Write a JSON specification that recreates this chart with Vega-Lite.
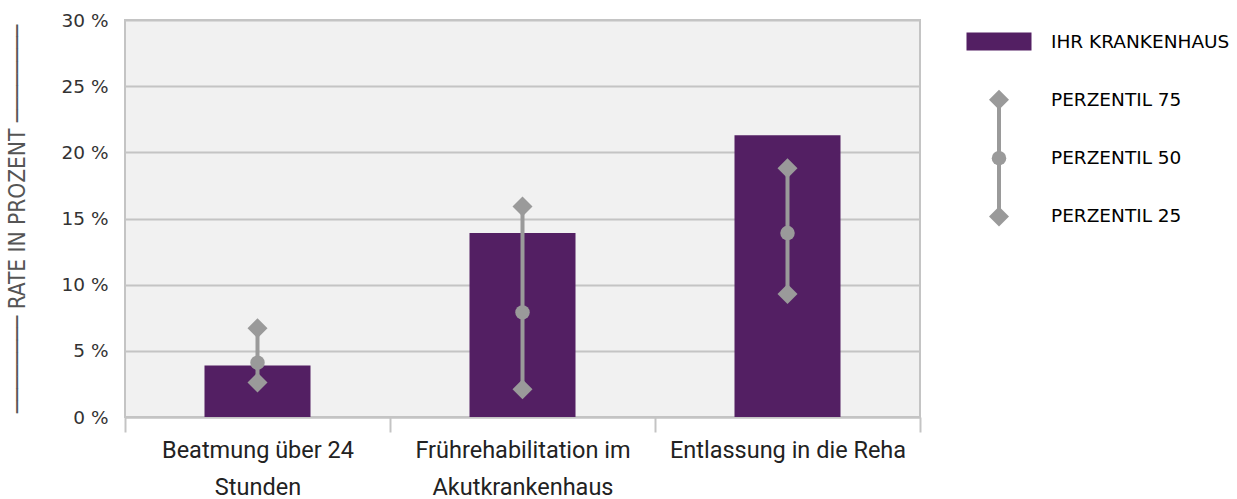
{
  "$schema": "https://vega.github.io/schema/vega-lite/v6.json",
  "background": "white",
  "padding": {"left": 5, "top": 10, "right": 5, "bottom": 2},
  "spacing": 79,
  "bounds": "flush",
  "hconcat": [
    {
      "width": 795,
      "height": 397,
      "view": {"fill": "#f1f1f1", "stroke": "#c4c4c4", "strokeWidth": 2},
      "data": {
        "values": [
          {"kategorie": "Beatmung über 24 Stunden", "rate": 3.9, "p25": 2.6, "p50": 4.1, "p75": 6.7},
          {"kategorie": "Frührehabilitation im Akutkrankenhaus", "rate": 13.9, "p25": 2.1, "p50": 7.9, "p75": 15.9},
          {"kategorie": "Entlassung in die Reha", "rate": 21.3, "p25": 9.3, "p50": 13.9, "p75": 18.8}
        ]
      },
      "encoding": {
        "x": {
          "field": "kategorie",
          "type": "nominal",
          "sort": null,
          "scale": {"paddingInner": 0, "paddingOuter": 0},
          "axis": {
            "title": null,
            "tickBand": "extent",
            "ticks": true,
            "tickSize": 15,
            "tickWidth": 2,
            "tickColor": "#c4c4c4",
            "domainColor": "#c4c4c4",
            "domainWidth": 2,
            "labelAngle": 0,
            "labelFont": "Roboto",
            "labelFontSize": 23.5,
            "labelColor": "#222222",
            "labelPadding": 6,
            "labelLineHeight": 37,
            "labelLimit": 400,
            "labelExpr": "datum.label == 'Beatmung über 24 Stunden' ? ['Beatmung über 24', 'Stunden'] : datum.label == 'Frührehabilitation im Akutkrankenhaus' ? ['Frührehabilitation im', 'Akutkrankenhaus'] : datum.label"
          }
        }
      },
      "layer": [
        {
          "mark": {"type": "bar", "color": "#531f63", "width": {"band": 0.4}},
          "encoding": {
            "y": {
              "field": "rate",
              "type": "quantitative",
              "title": "────────   RATE IN PROZENT  ────────",
              "scale": {"domain": [0, 30]},
              "axis": {
                "values": [0, 5, 10, 15, 20, 25, 30],
                "labelExpr": "datum.value + ' %'",
                "ticks": false,
                "domain": false,
                "grid": true,
                "gridColor": "#c4c4c4",
                "gridWidth": 2,
                "labelFont": "DejaVu Sans",
                "labelFontSize": 18.5,
                "labelColor": "#333333",
                "labelPadding": 17,
                "titleFont": "DejaVu Sans Condensed, DejaVu Sans",
                "titleFontSize": 22.5,
                "titleFontWeight": "normal",
                "titleColor": "#555555",
                "titlePadding": 32
              }
            }
          }
        },
        {
          "mark": {"type": "rule", "color": "#9a9a9a", "strokeWidth": 4},
          "encoding": {
            "y": {"field": "p25", "type": "quantitative", "title": "────────   RATE IN PROZENT  ────────"},
            "y2": {"field": "p75"}
          }
        },
        {
          "mark": {"type": "point", "shape": "diamond", "filled": true, "color": "#9a9a9a", "opacity": 1, "size": 400},
          "encoding": {"y": {"field": "p75", "type": "quantitative", "title": "────────   RATE IN PROZENT  ────────"}}
        },
        {
          "mark": {"type": "point", "shape": "circle", "filled": true, "color": "#9a9a9a", "opacity": 1, "size": 210},
          "encoding": {"y": {"field": "p50", "type": "quantitative", "title": "────────   RATE IN PROZENT  ────────"}}
        },
        {
          "mark": {"type": "point", "shape": "diamond", "filled": true, "color": "#9a9a9a", "opacity": 1, "size": 400},
          "encoding": {"y": {"field": "p25", "type": "quantitative", "title": "────────   RATE IN PROZENT  ────────"}}
        }
      ]
    },
    {
      "width": 52,
      "height": 218,
      "view": {"stroke": null, "fill": null},
      "data": {
        "values": [
          {"eintrag": "IHR KRANKENHAUS", "symbol": "balken"},
          {"eintrag": "PERZENTIL 75", "symbol": "raute"},
          {"eintrag": "PERZENTIL 50", "symbol": "kreis"},
          {"eintrag": "PERZENTIL 25", "symbol": "raute"}
        ]
      },
      "encoding": {
        "y": {
          "field": "eintrag",
          "type": "nominal",
          "sort": null,
          "scale": {"type": "point", "padding": 0.37, "domain": ["IHR KRANKENHAUS", "PERZENTIL 75", "PERZENTIL 50", "PERZENTIL 25"]},
          "axis": null
        }
      },
      "layer": [
        {
          "transform": [{"filter": "datum.symbol == 'balken'"}],
          "mark": {"type": "bar", "color": "#531f63", "width": 65, "height": 18},
          "encoding": {"x": {"datum": "Symbol", "type": "nominal", "scale": {"type": "point", "domain": ["Symbol", "Text"], "padding": 0}, "axis": null}}
        },
        {
          "transform": [{"filter": "datum.eintrag == 'PERZENTIL 75'"}],
          "mark": {"type": "rule", "color": "#9a9a9a", "strokeWidth": 4},
          "encoding": {
            "x": {"datum": "Symbol", "type": "nominal"},
            "y": {"datum": "PERZENTIL 75", "type": "nominal"},
            "y2": {"datum": "PERZENTIL 25"}
          }
        },
        {
          "transform": [{"filter": "datum.symbol == 'raute'"}],
          "mark": {"type": "point", "shape": "diamond", "filled": true, "color": "#9a9a9a", "opacity": 1, "size": 400},
          "encoding": {"x": {"datum": "Symbol", "type": "nominal"}}
        },
        {
          "transform": [{"filter": "datum.symbol == 'kreis'"}],
          "mark": {"type": "point", "shape": "circle", "filled": true, "color": "#9a9a9a", "opacity": 1, "size": 210},
          "encoding": {"x": {"datum": "Symbol", "type": "nominal"}}
        },
        {
          "mark": {"type": "text", "align": "left", "baseline": "middle", "font": "DejaVu Sans", "fontSize": 18.5, "color": "#000000"},
          "encoding": {
            "x": {"datum": "Text", "type": "nominal"},
            "text": {"field": "eintrag"}
          }
        }
      ]
    }
  ]
}
